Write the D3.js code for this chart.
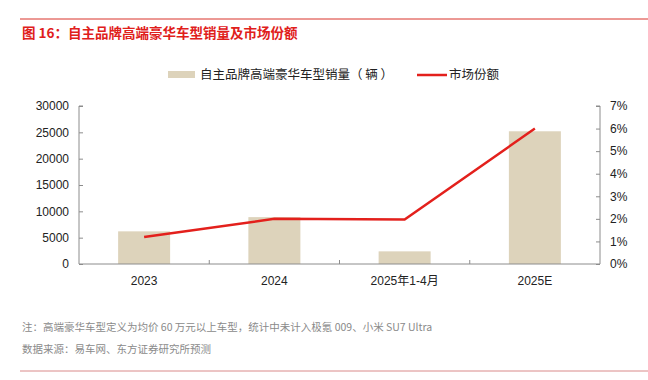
<!DOCTYPE html>
<html><head><meta charset="utf-8">
<script src="https://cdn.jsdelivr.net/npm/d3@7"></script>
<style>body{margin:0;background:#fff;}svg{display:block;font-family:"Noto Sans CJK SC","Liberation Sans",Arial,sans-serif;}</style>
</head><body>
<svg id="c" width="648" height="380"></svg>
<script>
const categories = ["2023", "2024", "2025年1-4月", "2025E"];
const salesValues = [6200, 8900, 2400, 25200];
const shareValues = [1.2, 2.0, 1.97, 6.0];
const leftTicks = [0, 5000, 10000, 15000, 20000, 25000, 30000];
const rightTicks = [0, 1, 2, 3, 4, 5, 6, 7];

const svg = d3.select("#c");
const L = 79, R = 600, T = 106, B = 264;
const axisColor = "#8c8c8c";
const latin = "'Liberation Sans', Arial, 'Noto Sans CJK SC', sans-serif";

svg.append("line").attr("x1", 20).attr("x2", 648).attr("y1", 19).attr("y2", 19)
  .attr("stroke", "#d9332b").attr("stroke-width", 1);
svg.append("text").attr("x", 22).attr("y", 38).attr("fill", "#e0201b")
  .attr("font-size", 13.5).attr("font-weight", "bold").text("图 16：自主品牌高端豪华车型销量及市场份额");

const xc = d3.scalePoint().domain(categories).range([L, R]).padding(0.5);
const yL = d3.scaleLinear().domain([0, 30000]).range([B, T]);
const yR = d3.scaleLinear().domain([0, 7]).range([B, T]);

// bars
svg.append("g").selectAll("rect").data(salesValues).join("rect")
  .attr("x", (d, i) => xc(categories[i]) - 26)
  .attr("width", 52)
  .attr("y", d => yL(d)).attr("height", d => B - yL(d))
  .attr("fill", "#ddd3bb");

// left axis
const gl = svg.append("g").attr("transform", `translate(${L},0)`)
  .call(d3.axisRight(yL).tickValues(leftTicks).tickSize(4).tickFormat(d3.format("d")));
gl.select(".domain").attr("stroke", axisColor).attr("d", `M4,${T}H0V${B}`);
gl.selectAll(".tick line").attr("stroke", axisColor);
gl.selectAll(".tick text").attr("x", -10).attr("text-anchor", "end").attr("font-size", 12)
  .attr("fill", "#222").attr("font-family", latin);

// right axis
const gr = svg.append("g").attr("transform", `translate(${R},0)`)
  .call(d3.axisLeft(yR).tickValues(rightTicks).tickSize(4).tickFormat(d => d + "%"));
gr.select(".domain").attr("stroke", axisColor).attr("d", `M-4,${T}H0V${B}`);
gr.selectAll(".tick line").attr("stroke", axisColor);
gr.selectAll(".tick text").attr("x", 10).attr("text-anchor", "start").attr("font-size", 12)
  .attr("fill", "#222").attr("font-family", latin);

// x axis
const gx = svg.append("g").attr("transform", `translate(0,${B})`);
gx.append("line").attr("x1", L).attr("x2", R).attr("stroke", axisColor);
const step = (R - L) / categories.length;
gx.selectAll("line.t").data(categories.slice(1)).join("line").attr("class", "t")
  .attr("x1", (d) => xc(d) - step / 2).attr("x2", (d) => xc(d) - step / 2)
  .attr("y1", 0).attr("y2", -4).attr("stroke", axisColor);
gx.selectAll("text").data(categories).join("text")
  .attr("x", d => xc(d)).attr("y", 21).attr("text-anchor", "middle")
  .attr("font-size", 12).attr("fill", "#222").attr("font-family", latin).text(d => d);

// line
const line = d3.line().x((d, i) => xc(categories[i])).y(d => yR(d));
svg.append("path").datum(shareValues).attr("d", line).attr("fill", "none")
  .attr("stroke", "#e3201c").attr("stroke-width", 2.5);

// legend
const lg = svg.append("g");
lg.append("rect").attr("x", 168).attr("y", 71).attr("width", 27).attr("height", 7).attr("fill", "#ddd3bb");
lg.append("text").attr("x", 200).attr("y", 79).attr("font-size", 12.5).attr("fill", "#222").text("自主品牌高端豪华车型销量（ 辆 ）");
lg.append("line").attr("x1", 417).attr("x2", 447).attr("y1", 75).attr("y2", 75).attr("stroke", "#e3201c").attr("stroke-width", 2.5);
lg.append("text").attr("x", 449).attr("y", 79).attr("font-size", 12.5).attr("fill", "#222").text("市场份额");

// footer
svg.append("text").attr("x", 22).attr("y", 331).attr("font-size", 10.5).attr("fill", "#8a8a8a")
  .text("注：高端豪华车型定义为均价 60 万元以上车型，统计中未计入极氪 009、小米 SU7 Ultra");
svg.append("text").attr("x", 22).attr("y", 353).attr("font-size", 10.5).attr("fill", "#8a8a8a")
  .text("数据来源：易车网、东方证券研究所预测");
svg.append("line").attr("x1", 20).attr("x2", 648).attr("y1", 371).attr("y2", 371)
  .attr("stroke", "#d98a8a").attr("stroke-width", 1);
</script>
</body></html>
